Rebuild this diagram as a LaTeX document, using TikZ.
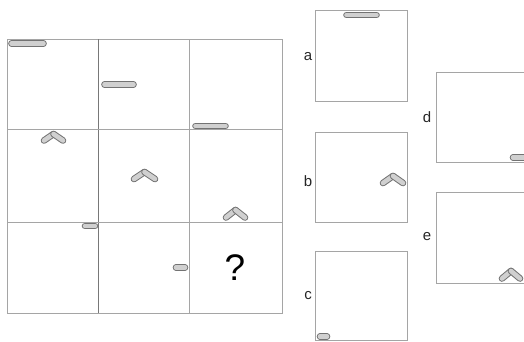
\documentclass[tikz,border=0pt]{standalone}
\usepackage{fontspec}
\setmainfont{Liberation Sans}
\usepackage{tikz}
\definecolor{gridgray}{RGB}{165,165,165}
\definecolor{griddark}{RGB}{120,120,120}
\definecolor{capsline}{RGB}{115,115,115}
\definecolor{capsfill}{RGB}{208,208,208}
\tikzset{
  gridline/.style={draw=gridgray, line width=1pt},
  gridlinedark/.style={draw=griddark, line width=1pt},
  capsule/.style={draw=capsline, line width=1pt, double=capsfill,
    double distance=4.6pt, line cap=round},
  optlabel/.style={font=\fontsize{15}{15}\selectfont, text=black!85, inner sep=0pt},
}

\begin{document}
\begin{tikzpicture}[x=1pt, y=-1pt]
  \useasboundingbox (0,0) rectangle (524,341);
  \clip (0,0) rectangle (524,341);
  % puzzle grid
  \draw[gridline] (7,39) rectangle (282,313);
  \draw[gridlinedark] (98,39) -- (98,313);
  \draw[gridline] (189,39) -- (189,313);
  \draw[gridline] (7,129) -- (282,129);
  \draw[gridline] (7,222) -- (282,222);
  % row 1: long capsule
  \draw[capsule] (11.5,43.5) -- (43.5,43.5);
  \draw[capsule] (104.5,84.5) -- (133.5,84.5);
  \draw[capsule] (195.5,126) -- (225.5,126);
  % row 2: chevron
  \draw[capsule] (53.5,134) -- (44,140.5);
  \draw[capsule] (53.5,134) -- (63,140.5);
  \draw[capsule] (144.5,172) -- (134,179);
  \draw[capsule] (144.5,172) -- (155,179);
  \draw[capsule] (235.5,210) -- (226,217.5);
  \draw[capsule] (235.5,210) -- (245,217.5);
  % row 3: short capsule
  \draw[capsule] (85,226) -- (95,226);
  \draw[capsule] (176,267.5) -- (185,267.5);
  \node[font=\fontsize{37}{37}\selectfont, inner sep=0pt] (qmark) at (235,268) {?};
  % answer options
  \draw[gridline] (315,10) rectangle (407,101);
  \draw[capsule] (346.5,15) -- (376.5,15);
  \node[optlabel] (labela) at (308,57) {a};
  \draw[gridline] (315,132) rectangle (407,222);
  \draw[capsule] (393,176) -- (383,183);
  \draw[capsule] (393,176) -- (403,183);
  \node[optlabel] (labelb) at (308,181) {b};
  \draw[gridline] (315,251) rectangle (407,340);
  \draw[capsule] (320,336.5) -- (327,336.5);
  \node[optlabel] (labelc) at (308,296) {c};
  \draw[gridline] (436,72) rectangle (534,162);
  \draw[capsule] (513,157.5) -- (528,157.5);
  \node[optlabel] (labeld) at (427,117) {d};
  \draw[gridline] (436,192) rectangle (534,283);
  \draw[capsule] (511,271) -- (502,278.5);
  \draw[capsule] (511,271) -- (520,278.5);
  \node[optlabel] (labele) at (427,237) {e};
\end{tikzpicture}
\end{document}
